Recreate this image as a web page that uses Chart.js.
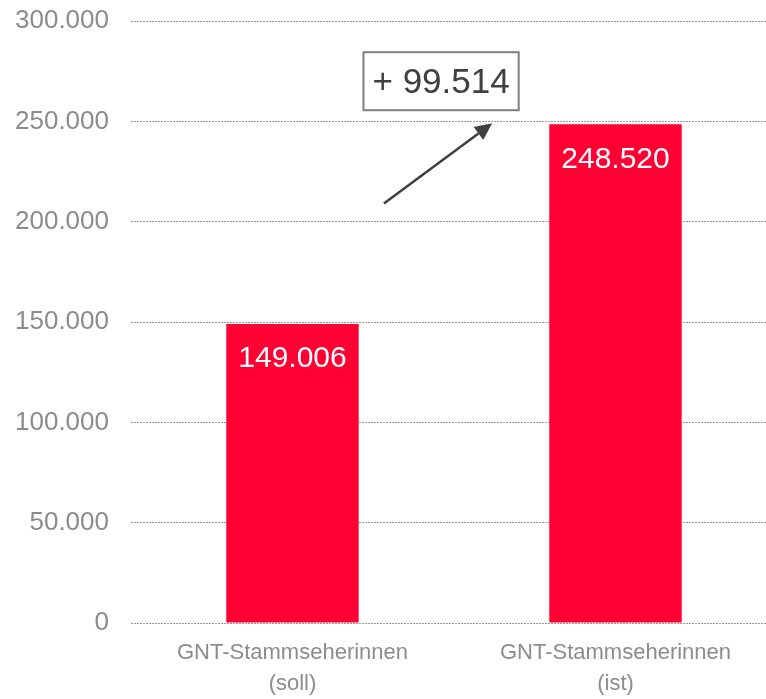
<!DOCTYPE html>
<html>
<head>
<meta charset="utf-8">
<script src="https://cdn.jsdelivr.net/npm/chart.js@4.4.0/dist/chart.umd.min.js"></script>
<style>
html,body{margin:0;padding:0;background:#fff;overflow:hidden;}
#wrap{position:relative;width:777px;height:699px;}
</style>
</head>
<body>
<div id="wrap"><canvas id="c"></canvas></div>
<script>
const categories = [["GNT-Stammseherinnen","(soll)"],["GNT-Stammseherinnen","(ist)"]];
const values = [149006, 248520];
const yTicks = [0, 50000, 100000, 150000, 200000, 250000, 300000];
const differenceLabel = "+ 99.514";
const arrowFromValue = 209000;
const arrowToValue = 249000;
const boxValue = 270000;

const fmt = v => v.toLocaleString('de-DE');
const FONT = "'Liberation Sans', Arial, sans-serif";

const labelsPlugin = {
  id: 'labelsPlugin',
  afterDatasetsDraw(chart) {
    const ctx = chart.ctx;
    const meta = chart.getDatasetMeta(0);
    ctx.save();
    ctx.fillStyle = '#ffffff';
    ctx.font = '30px ' + FONT;
    ctx.textAlign = 'center';
    ctx.textBaseline = 'middle';
    meta.data.forEach((bar, i) => {
      ctx.fillText(fmt(values[i]), bar.x, bar.y + 35);
    });
    // annotation
    const xs = chart.scales.x, ys = chart.scales.y;
    const bx = xs.getPixelForValue(0.46), by = ys.getPixelForValue(boxValue);
    ctx.font = '35px ' + FONT;
    const tw = ctx.measureText(differenceLabel).width;
    const bw = tw + 18, bh = 58;
    ctx.fillStyle = '#fff';
    ctx.fillRect(bx - bw/2, by - bh/2, bw, bh);
    ctx.strokeStyle = '#7f7f7f';
    ctx.lineWidth = 2;
    ctx.strokeRect(bx - bw/2, by - bh/2, bw, bh);
    ctx.fillStyle = '#404040';
    ctx.fillText(differenceLabel, bx, by + 2);
    // arrow
    const x1 = xs.getPixelForValue(0.283), y1 = ys.getPixelForValue(arrowFromValue);
    const x2 = xs.getPixelForValue(0.618), y2 = ys.getPixelForValue(arrowToValue);
    const ang = Math.atan2(y2 - y1, x2 - x1);
    const hl = 17, hw = 8;
    const bxh = x2 - hl * Math.cos(ang), byh = y2 - hl * Math.sin(ang);
    ctx.strokeStyle = '#404040';
    ctx.lineWidth = 2.5;
    ctx.beginPath();
    ctx.moveTo(x1, y1);
    ctx.lineTo(bxh, byh);
    ctx.stroke();
    ctx.fillStyle = '#404040';
    ctx.beginPath();
    ctx.moveTo(x2, y2);
    ctx.lineTo(bxh + hw * Math.sin(ang), byh - hw * Math.cos(ang));
    ctx.lineTo(bxh - hw * Math.sin(ang), byh + hw * Math.cos(ang));
    ctx.closePath();
    ctx.fill();
    ctx.restore();
  }
};

new Chart(document.getElementById('c'), {
  type: 'bar',
  data: {
    labels: categories,
    datasets: [{
      data: values,
      backgroundColor: '#FF0033',
      barPercentage: 0.41,
      categoryPercentage: 1.0
    }]
  },
  options: {
    responsive: true,
    maintainAspectRatio: false,
    animation: false,
    layout: { padding: { top: 21, left: 0, right: 0, bottom: 0 } },
    plugins: { legend: { display: false }, tooltip: { enabled: false } },
    scales: {
      x: {
        afterFit: s => { s.height = 76; s.paddingLeft = 0; s.paddingRight = 0; },
        grid: { display: false, drawTicks: false },
        border: { display: false },
        ticks: { color: '#8c8c8c', font: { family: FONT, size: 22, lineHeight: 1.42 }, padding: 14, maxRotation: 0, autoSkip: false }
      },
      y: {
        min: 0, max: 300000,
        afterBuildTicks: s => { s.ticks = yTicks.map(v => ({ value: v })); },
        afterFit: s => { s.width = 131; s.paddingTop = 0; s.paddingBottom = 0; },
        grid: { color: '#9a9a9a', lineWidth: 1, drawTicks: false },
        border: { display: false, dash: [2, 1] },
        ticks: { color: '#8c8c8c', font: { family: FONT, size: 26 }, padding: 22, callback: v => fmt(v) }
      }
    }
  },
  plugins: [labelsPlugin]
});
</script>
</body>
</html>
